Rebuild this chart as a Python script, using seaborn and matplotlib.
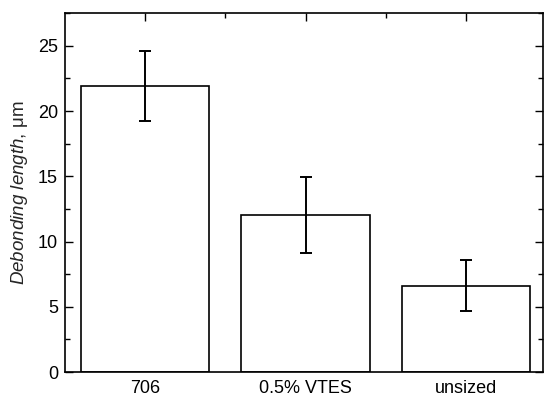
import matplotlib
matplotlib.use("Agg")
import matplotlib.pyplot as plt
from matplotlib.ticker import MultipleLocator, FixedLocator
import seaborn as sns
import pandas as pd

categories = ["706", "0.5% VTES", "unsized"]
lengths = [21.9, 12.04, 6.62]
errors = [2.67, 2.89, 1.98]

sns.set_style("ticks")
plt.rcParams["font.family"] = ["Liberation Sans", "DejaVu Sans"]
plt.rcParams["mathtext.fontset"] = "custom"
plt.rcParams["mathtext.it"] = "Liberation Sans:italic"
plt.rcParams["mathtext.rm"] = "Liberation Sans"

df = pd.DataFrame({"sizing": categories, "length": lengths})

fig = plt.figure(figsize=(5.45, 3.98), dpi=100)
ax = fig.add_axes([0.1193, 0.0653, 0.8770, 0.9017])

sns.barplot(data=df, x="sizing", y="length", color="white", edgecolor="black",
            linewidth=1.2, width=0.8, errorbar=None, ax=ax)
ax.errorbar(range(len(categories)), lengths, yerr=errors, fmt="none",
            ecolor="black", elinewidth=1.4, capsize=4, capthick=1.4)

ax.set_ylim(0, 27.5)
ax.set_xlim(-0.5, 2.48)
ax.yaxis.set_major_locator(MultipleLocator(5))
ax.yaxis.set_minor_locator(MultipleLocator(2.5))
ax.xaxis.set_minor_locator(FixedLocator([0.5, 1.5]))

for s in ax.spines.values():
    s.set_visible(True)
    s.set_linewidth(1.2)
    s.set_color("black")

ax.tick_params(axis="y", which="both", direction="in", left=True, right=True,
               labelsize=13, colors="black", width=1.0, pad=5)
ax.tick_params(axis="y", which="major", length=6)
ax.tick_params(axis="y", which="minor", length=3.5)
ax.tick_params(axis="x", which="both", direction="in", bottom=False, top=True,
               labelsize=13, colors="black", width=1.0, pad=6)
ax.tick_params(axis="x", which="major", length=6)
ax.tick_params(axis="x", which="minor", length=3.5)

ax.set_xlabel("")
ax.set_ylabel(r"$\it{Debonding\ length}$, μm", fontsize=13.5, labelpad=6)

fig.savefig("out.png", dpi=100)
